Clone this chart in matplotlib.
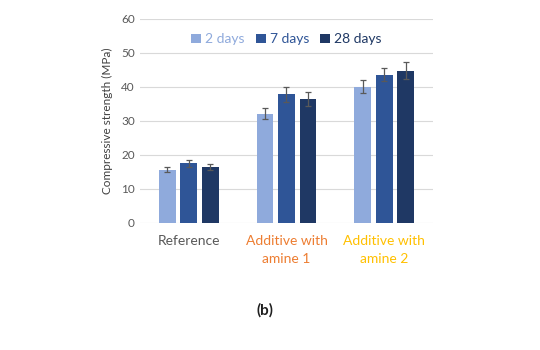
import numpy as np
import matplotlib.pyplot as plt
import matplotlib.transforms as mtransforms

plt.rcParams['font.family'] = ['Lato', 'DejaVu Sans']

groups = ['Reference', 'Additive with\namine 1', 'Additive with\namine 2']
group_colors = ['#595959', '#ed7d31', '#ffc000']
series = ['2 days', '7 days', '28 days']
colors = ['#8faadc', '#2f5597', '#1f3864']
values = [
    [15.7, 32.1, 40.1],
    [17.5, 37.8, 43.6],
    [16.4, 36.5, 44.8],
]
errors = [
    [0.85, 1.6, 2.0],
    [1.0, 2.1, 2.0],
    [0.9, 2.0, 2.4],
]

fig = plt.figure(figsize=(5.4, 3.5), dpi=100)
ax = fig.add_axes([0.259, 0.363, 0.543, 0.583])

x = np.arange(len(groups))
width = 0.17
step = 0.22
for i, name in enumerate(series):
    ax.bar(x + (i - 1) * step, values[i], width, color=colors[i], label=name, zorder=3,
           yerr=errors[i], error_kw=dict(ecolor='#595959', elinewidth=0.9, capsize=2.5, capthick=0.9))

ax.set_xlim(-0.5, 2.5)
ax.set_ylim(0, 60)
ax.set_yticks(range(0, 61, 10))
ax.grid(axis='y', color='#d9d9d9', linewidth=0.8, zorder=0)
for s in ax.spines.values():
    s.set_visible(False)
ax.tick_params(axis='both', length=0, colors='#595959', labelsize=8.5)
ax.set_xticks([])

# category labels, each line centred on its group
trans = mtransforms.blended_transform_factory(ax.transData, ax.transAxes)
for xi, g, c in zip(x, groups, group_colors):
    for k, line in enumerate(g.split('\n')):
        off = mtransforms.offset_copy(trans, fig=fig, y=-9 - k * 12.5, units='points')
        ax.text(xi, 0, line, transform=off, ha='center', va='top', fontsize=10, color=c)

ax.set_ylabel('Compressive strength (MPa)', fontsize=8.5, color='#404040', labelpad=6)

leg = ax.legend(loc='upper center', bbox_to_anchor=(0.5, 0.99), ncol=3, frameon=False,
                fontsize=10, handlelength=0.7, handleheight=0.7, handletextpad=0.3,
                columnspacing=0.8)
for t, c in zip(leg.get_texts(), colors):
    t.set_color(c)

fig.text(0.49, 0.113, '(b)', ha='center', va='center', fontsize=11, fontweight='bold', color='#202020')

fig.savefig('out.png', dpi=100)
